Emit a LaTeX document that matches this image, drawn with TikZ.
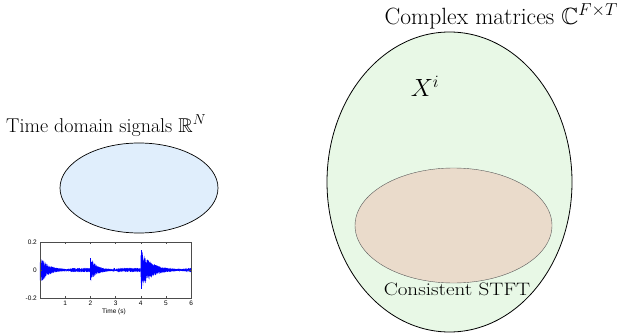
\documentclass[tikz,border=0pt]{standalone}
\usepackage{amssymb}
\usepackage{fontspec}
\usetikzlibrary{shapes.geometric}
\newfontfamily\axfont{Liberation Sans}
\definecolor{sigblue}{RGB}{224,238,252}
\definecolor{setgreen}{RGB}{232,248,230}
\definecolor{stftbeige}{RGB}{234,219,203}
\tikzset{
  settext/.style={font=\fontsize{20}{24}\selectfont, inner sep=0pt},
  bigtext/.style={font=\fontsize{23.5}{28}\selectfont, inner sep=0pt},
  ticklab/.style={font=\axfont\fontsize{6.5}{7}\selectfont, inner sep=0pt},
  wave/.style={blue, line width=0.3pt},
  axline/.style={black!70, line width=0.4pt},
  setshape/.style={ellipse, inner sep=0pt},
}
\begin{document}
\begin{tikzpicture}[x=1pt,y=-1pt]
\useasboundingbox (0,0) rectangle (620,334);
% left set
\node[settext, anchor=base west] (tdlabel) at (6,132) {Time domain signals $\mathbb{R}^N$};
\node[setshape, draw=black, fill=sigblue, minimum width=158pt, minimum height=90pt, line width=0.7pt] (tdset) at (139,188) {};
% right set
\node[bigtext, anchor=base east] (cxlabel) at (618,25) {Complex matrices $\mathbb{C}^{F\times T}$};
\node[setshape, draw=black, fill=setgreen, minimum width=245pt, minimum height=300pt, line width=0.8pt] (cxset) at (449.5,182) {};
\node[bigtext, font=\fontsize{27}{32}\selectfont] (xi) at (425,86) {$X^i$};
\node[setshape, draw=black!65, fill=stftbeige, minimum width=197pt, minimum height=115pt, line width=0.4pt] (stft) at (453.5,225.5) {};
\node[settext, font=\fontsize{18}{22}\selectfont, anchor=base] (stftlabel) at (457,295) {\scalebox{1.17}[1]{Consistent STFT}};
% waveform plot
\pgfmathsetseed{7}
\draw[wave] plot[domain=0:2, samples=401] ({40+25.2*\x}, {270-140*(0.1*exp(-\x/0.3)+0.005)*(0.45+0.55*rnd)*(1-2*mod(round(\x*200),2))});
\draw[wave] plot[domain=2:4, samples=401] ({40+25.2*\x}, {270-140*(0.085*exp(-(\x-2)/0.25)+0.005)*(0.45+0.55*rnd)*(1-2*mod(round(\x*200),2))});
\draw[wave] plot[domain=4:6, samples=401] ({40+25.2*\x}, {270-140*(0.145*exp(-(\x-4)/0.4)+0.005)*(0.45+0.55*rnd)*(1-2*mod(round(\x*200),2))});
\draw[wave, line width=0.6pt] (40.3,256) -- (40.3,284);
\draw[wave, line width=0.6pt] (90.6,258) -- (90.6,280);
\draw[wave, line width=0.6pt] (141,250) -- (141,289);
\draw[axline, line width=0.5pt] (40,242) rectangle (191,298);
\foreach \t in {1,...,5}{
  \draw[axline] ({40+25.2*\t},298) -- ++(0,-2);
  \draw[axline] ({40+25.2*\t},242) -- ++(0,2);
}
\draw[axline] (40,270) -- ++(2,0);
\draw[axline] (191,270) -- ++(-2,0);
\foreach \t in {1,...,6}{
  \node[ticklab, anchor=north] (xt\t) at ({40+25.2*\t},300.5) {\t};
}
\node[ticklab, anchor=east] (yt1) at (37,242) {0.2};
\node[ticklab, anchor=east] (yt2) at (37,270) {0};
\node[ticklab, anchor=east] (yt3) at (37,298) {-0.2};
\node[ticklab, anchor=north] (tlab) at (114,309) {Time (s)};
\end{tikzpicture}
\end{document}
